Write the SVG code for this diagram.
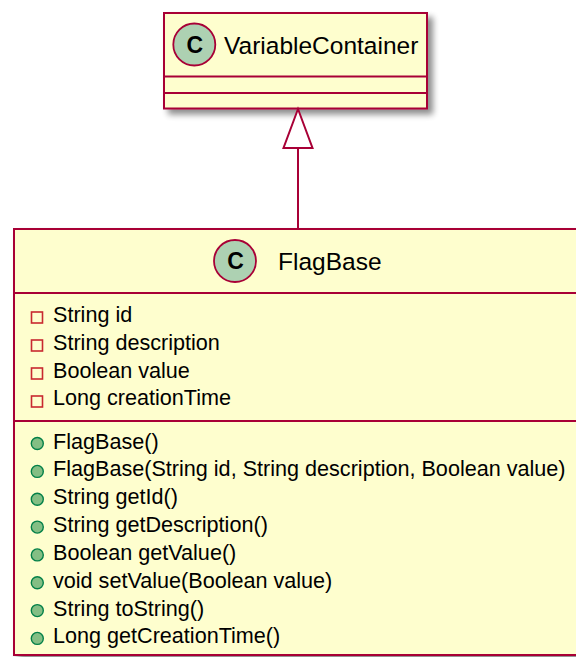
<svg xmlns="http://www.w3.org/2000/svg" width="576" height="657" viewBox="0 0 576 657">
  <defs>
    <filter id="shadow" x="-10%" y="-10%" width="130%" height="130%">
      <feGaussianBlur in="SourceAlpha" stdDeviation="3" result="b"/>
      <feOffset in="b" dx="5" dy="5" result="o"/>
      <feComponentTransfer in="o" result="s">
        <feFuncA type="linear" slope="0.45"/>
      </feComponentTransfer>
      <feMerge>
        <feMergeNode in="s"/>
        <feMergeNode in="SourceGraphic"/>
      </feMerge>
    </filter>
  </defs>
  <style>
    .box { fill: #FEFECE; stroke: #A80036; stroke-width: 2; }
    .div { stroke: #A80036; stroke-width: 2; }
    .spot { fill: #ADD1B2; stroke: #A80036; stroke-width: 1.8; }
    .spotc { font-family: "Liberation Sans", Arial, sans-serif; font-size: 23px; font-weight: bold; fill: #000000; text-anchor: middle; }
    .name { font-family: "Liberation Sans", Arial, sans-serif; font-size: 24.5px; fill: #000000; }
    .mem { font-family: "Liberation Sans", Arial, sans-serif; font-size: 21.6px; fill: #000000; }
    .priv { fill: none; stroke: #C82930; stroke-width: 1.6; }
    .pub { fill: #84BE84; stroke: #038048; stroke-width: 1.4; }
    .edge { stroke: #A80036; stroke-width: 2; fill: none; }
    .head { fill: #FFFFFF; stroke: #A80036; stroke-width: 2; }
  </style>

  <g id="VariableContainer">
    <rect class="box" x="164" y="13" width="263" height="95.5" filter="url(#shadow)"/>
    <circle class="spot" cx="194.3" cy="44.5" r="21"/>
    <text class="spotc" x="194.8" y="52.8">C</text>
    <text class="name" x="224" y="53.5">VariableContainer</text>
    <line class="div" x1="164" y1="76.5" x2="427" y2="76.5"/>
    <line class="div" x1="164" y1="93" x2="427" y2="93"/>
  </g>

  <g id="FlagBase">
    <rect class="box" x="14" y="229" width="568" height="426" filter="url(#shadow)"/>
    <circle class="spot" cx="235" cy="261" r="21"/>
    <text class="spotc" x="235.5" y="269.3">C</text>
    <text class="name" x="278" y="270">FlagBase</text>
    <line class="div" x1="14" y1="293" x2="582" y2="293"/>
    <rect class="priv" x="31.5" y="312" width="11" height="11"/>
    <text class="mem" x="53" y="321.7">String id</text>
    <rect class="priv" x="31.5" y="340" width="11" height="11"/>
    <text class="mem" x="53" y="349.6">String description</text>
    <rect class="priv" x="31.5" y="368" width="11" height="11"/>
    <text class="mem" x="53" y="377.5">Boolean value</text>
    <rect class="priv" x="31.5" y="396" width="11" height="11"/>
    <text class="mem" x="53" y="405.4">Long creationTime</text>
    <line class="div" x1="14" y1="421" x2="582" y2="421"/>
    <circle class="pub" cx="37.3" cy="443.5" r="6"/>
    <text class="mem" x="53" y="448.5">FlagBase()</text>
    <circle class="pub" cx="37.3" cy="471.4" r="6"/>
    <text class="mem" x="53" y="476.4">FlagBase(String id, String description, Boolean value)</text>
    <circle class="pub" cx="37.3" cy="499.2" r="6"/>
    <text class="mem" x="53" y="504.2">String getId()</text>
    <circle class="pub" cx="37.3" cy="527.1" r="6"/>
    <text class="mem" x="53" y="532.1">String getDescription()</text>
    <circle class="pub" cx="37.3" cy="554.9" r="6"/>
    <text class="mem" x="53" y="559.9">Boolean getValue()</text>
    <circle class="pub" cx="37.3" cy="582.8" r="6"/>
    <text class="mem" x="53" y="587.8">void setValue(Boolean value)</text>
    <circle class="pub" cx="37.3" cy="610.6" r="6"/>
    <text class="mem" x="53" y="615.6">String toString()</text>
    <circle class="pub" cx="37.3" cy="638.4" r="6"/>
    <text class="mem" x="53" y="643.4">Long getCreationTime()</text>
  </g>

  <g id="connectors">
    <line class="edge" x1="298" y1="148" x2="298" y2="229"/>
    <polygon class="head" points="298,109 283.5,148 312.5,148"/>
  </g>
</svg>
